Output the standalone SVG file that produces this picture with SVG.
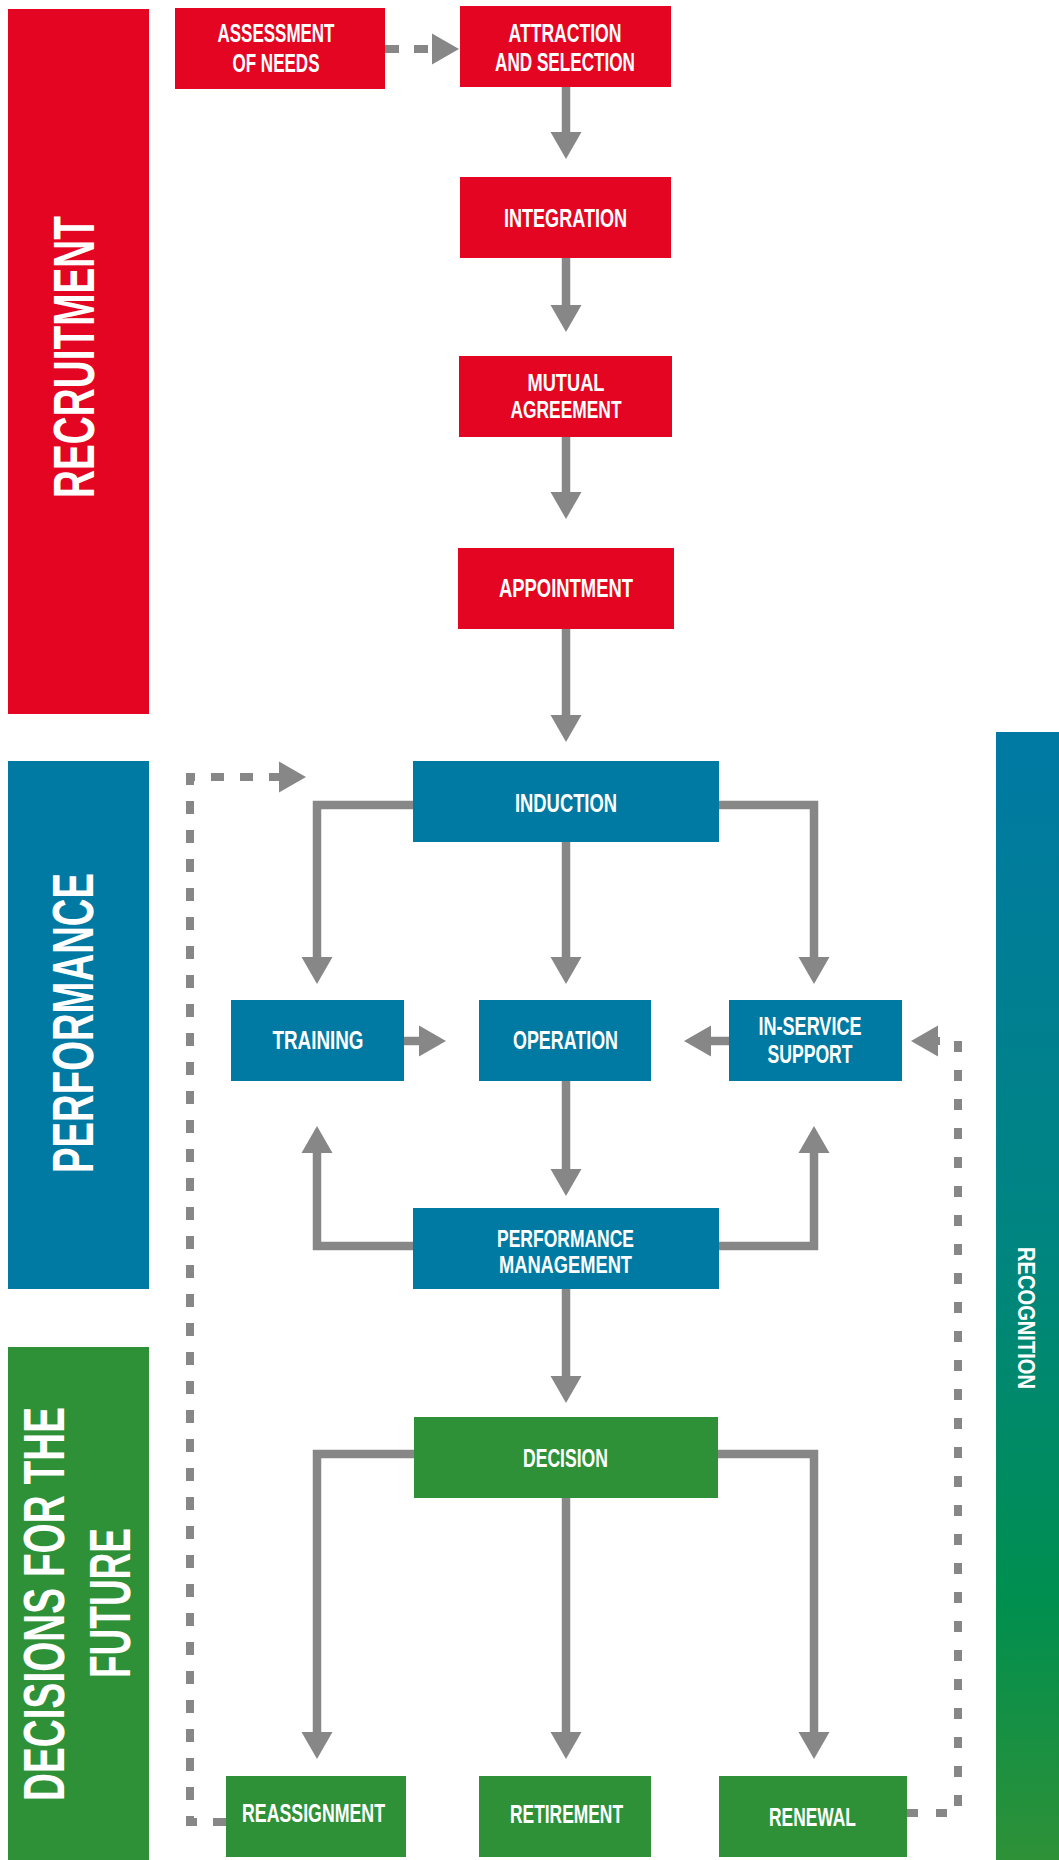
<svg xmlns="http://www.w3.org/2000/svg" width="1059" height="1860" viewBox="0 0 1059 1860">
<style>
.red{fill:#E30521}.blue{fill:#007AA3}.green{fill:#2E9137}
.t{font-family:"Liberation Sans Narrow","Liberation Sans",Arial,sans-serif;font-weight:bold;font-size:26px;fill:#fff;text-anchor:middle}
.t2{font-size:23px}
.side{font-family:"Liberation Sans","DejaVu Sans",Arial,sans-serif;font-weight:bold;font-size:57px;fill:#fff;text-anchor:middle}
.rec{font-family:"Liberation Sans Narrow","Liberation Sans",Arial,sans-serif;font-weight:bold;font-size:24px;fill:#fff;text-anchor:middle}
.c{fill:none;stroke:#878787;stroke-width:8.5;marker-end:url(#ah)}
.d{fill:none;stroke:#878787;stroke-width:8;stroke-dasharray:13 16;}
</style>
<defs>
<marker id="ah" markerUnits="userSpaceOnUse" markerWidth="27" markerHeight="31" viewBox="0 0 27 31" refX="0" refY="15.5" orient="auto" overflow="visible">
<path d="M0,0 L27,15.5 L0,31 Z" fill="#878787"/>
</marker>
<linearGradient id="rg" x1="0" y1="732" x2="0" y2="1860" gradientUnits="userSpaceOnUse">
<stop offset="0" stop-color="#0079A4"/>
<stop offset="0.45" stop-color="#008581"/>
<stop offset="0.77" stop-color="#008F4F"/>
<stop offset="1" stop-color="#2E9137"/>
</linearGradient>
</defs>

<g id="sidebars">
<g id="side-recruitment"><rect class="red" x="8" y="9" width="141" height="705"/>
<text class="side" transform="translate(94,357) rotate(-90)" textLength="282" lengthAdjust="spacingAndGlyphs">RECRUITMENT</text></g>
<g id="side-performance"><rect class="blue" x="8" y="761" width="141" height="528"/>
<text class="side" transform="translate(93,1023) rotate(-90)" textLength="300" lengthAdjust="spacingAndGlyphs">PERFORMANCE</text></g>
<g id="side-decisions"><rect class="green" x="8" y="1347" width="141" height="513"/>
<text class="side" transform="translate(64,1604) rotate(-90)" textLength="394" lengthAdjust="spacingAndGlyphs">DECISIONS FOR THE</text>
<text class="side" transform="translate(130,1603) rotate(-90)" textLength="150" lengthAdjust="spacingAndGlyphs">FUTURE</text></g>
<g id="side-recognition"><rect x="996" y="732" width="63" height="1128" fill="url(#rg)"/>
<text class="rec" transform="translate(1018,1318) rotate(90)" textLength="142" lengthAdjust="spacingAndGlyphs">RECOGNITION</text></g>
</g>

<g id="connectors">
<path class="d" d="M385,49 H432" marker-end="url(#ah)" style="stroke-dasharray:14 15"/>
<path class="c" d="M566,87 V132"/>
<path class="c" d="M566,256 V305"/>
<path class="c" d="M566,435 V492"/>
<path class="c" d="M566,629 V715"/>
<path class="c" d="M413,805 H317 V957"/>
<path class="c" d="M566,842 V957"/>
<path class="c" d="M719,805 H814 V957"/>
<path class="c" d="M403,1041 H419"/>
<path class="c" d="M729,1041 H711"/>
<path class="c" d="M566,1080 V1169"/>
<path class="c" d="M413,1246 H317 V1153"/>
<path class="c" d="M719,1246 H814 V1153"/>
<path class="c" d="M566,1289 V1376"/>
<path class="c" d="M414,1454 H317 V1732"/>
<path class="c" d="M566,1498 V1732"/>
<path class="c" d="M718,1454 H814 V1732"/>
<path class="d" d="M226,1822 H190 V777 H279" marker-end="url(#ah)"/>
<path class="d" d="M907,1813 H958 V1041 H938" marker-end="url(#ah)" style="stroke-dasharray:11 18"/>
</g>

<g id="n-assessment"><rect class="red" x="175" y="8" width="210" height="81"/>
<text class="t" x="276" y="42" textLength="117" lengthAdjust="spacingAndGlyphs">ASSESSMENT</text>
<text class="t" x="276" y="72" textLength="87" lengthAdjust="spacingAndGlyphs">OF NEEDS</text></g>
<g id="n-attraction"><rect class="red" x="460" y="6" width="211" height="81"/>
<text class="t" x="565" y="42" textLength="113" lengthAdjust="spacingAndGlyphs">ATTRACTION</text>
<text class="t" x="565" y="71" textLength="140" lengthAdjust="spacingAndGlyphs">AND SELECTION</text></g>
<g id="n-integration"><rect class="red" x="460" y="177" width="211" height="81"/>
<text class="t" x="565.5" y="227" textLength="123" lengthAdjust="spacingAndGlyphs">INTEGRATION</text></g>
<g id="n-mutual"><rect class="red" x="459" y="356" width="213" height="81"/>
<text class="t t2" x="566" y="391" textLength="77" lengthAdjust="spacingAndGlyphs">MUTUAL</text>
<text class="t t2" x="566" y="418" textLength="111" lengthAdjust="spacingAndGlyphs">AGREEMENT</text></g>
<g id="n-appointment"><rect class="red" x="458" y="548" width="216" height="81"/>
<text class="t" x="566" y="597" textLength="134" lengthAdjust="spacingAndGlyphs">APPOINTMENT</text></g>

<g id="n-induction"><rect class="blue" x="413" y="761" width="306" height="81"/>
<text class="t" x="566" y="812" textLength="102" lengthAdjust="spacingAndGlyphs">INDUCTION</text></g>
<g id="n-training"><rect class="blue" x="231" y="1000" width="173" height="81"/>
<text class="t" x="318" y="1049" textLength="91" lengthAdjust="spacingAndGlyphs">TRAINING</text></g>
<g id="n-operation"><rect class="blue" x="479" y="1000" width="172" height="81"/>
<text class="t" x="565.5" y="1049" textLength="105" lengthAdjust="spacingAndGlyphs">OPERATION</text></g>
<g id="n-inservice"><rect class="blue" x="729" y="1000" width="173" height="81"/>
<text class="t" x="810" y="1035" textLength="103" lengthAdjust="spacingAndGlyphs">IN-SERVICE</text>
<text class="t" x="810" y="1063" textLength="85" lengthAdjust="spacingAndGlyphs">SUPPORT</text></g>
<g id="n-perfmgmt"><rect class="blue" x="413" y="1208" width="306" height="81"/>
<text class="t t2" x="565.5" y="1247" textLength="137" lengthAdjust="spacingAndGlyphs">PERFORMANCE</text>
<text class="t t2" x="565.5" y="1273" textLength="133" lengthAdjust="spacingAndGlyphs">MANAGEMENT</text></g>

<g id="n-decision"><rect class="green" x="414" y="1417" width="304" height="81"/>
<text class="t" x="565.5" y="1467" textLength="85" lengthAdjust="spacingAndGlyphs">DECISION</text></g>
<g id="n-reassignment"><rect class="green" x="226" y="1776" width="180" height="81"/>
<text class="t" x="313.5" y="1822" textLength="143" lengthAdjust="spacingAndGlyphs">REASSIGNMENT</text></g>
<g id="n-retirement"><rect class="green" x="479" y="1776" width="172" height="81"/>
<text class="t" x="566.5" y="1823" textLength="113" lengthAdjust="spacingAndGlyphs">RETIREMENT</text></g>
<g id="n-renewal"><rect class="green" x="719" y="1776" width="188" height="81"/>
<text class="t" x="812.5" y="1826" textLength="87" lengthAdjust="spacingAndGlyphs">RENEWAL</text></g>
</svg>
